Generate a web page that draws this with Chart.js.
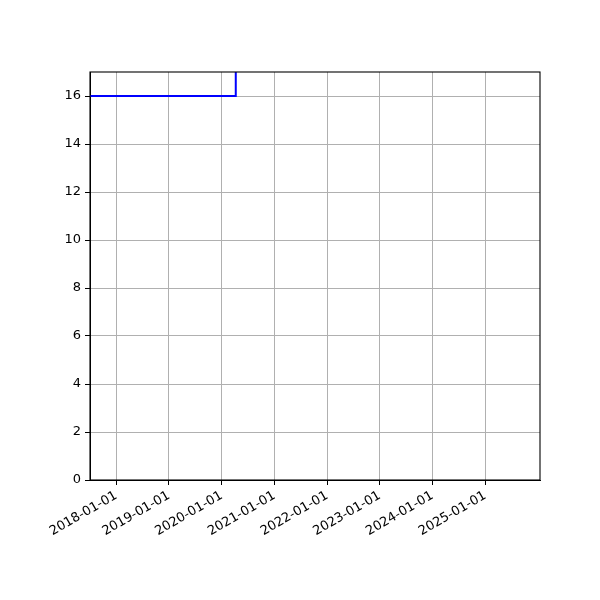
<!DOCTYPE html>
<html>
<head>
<meta charset="utf-8">
<script src="https://cdn.jsdelivr.net/npm/chart.js@4"></script>
<style>
  body { margin: 0; background: #fff; }
</style>
</head>
<body>
<canvas id="chart" width="600" height="600"></canvas>
<script>
// step series (values above 17 run off the top of the axes)
const stepDates = ['2017-01-01', '2020-04-08', '2023-06-01', '2025-08-27'];
const stepValues = [16, 30, 30, 30];
const yearTicks = ['2018-01-01', '2019-01-01', '2020-01-01', '2021-01-01',
                   '2022-01-01', '2023-01-01', '2024-01-01', '2025-01-01'];
const yTicks = [0, 2, 4, 6, 8, 10, 12, 14, 16];
const xRange = ['2017-07-03', '2026-01-15'];
const yRange = [0, 17];

function ms(s) {
    const p = s.split('-');
    return Date.UTC(+p[0], +p[1] - 1, +p[2]);
}
function fmt(v) {
    const d = new Date(v);
    const mm = String(d.getUTCMonth() + 1).padStart(2, '0');
    const dd = String(d.getUTCDate()).padStart(2, '0');
    return d.getUTCFullYear() + '-' + mm + '-' + dd;
}

const frame = {
    id: 'frame',
    afterDraw(chart) {
        const a = chart.chartArea;
        const ctx = chart.ctx;
        ctx.save();
        ctx.strokeStyle = '#000';
        ctx.lineWidth = 1.1;
        ctx.strokeRect(a.left, a.top, a.right - a.left, a.bottom - a.top);
        ctx.restore();
    }
};

Chart.defaults.font.family = 'DejaVu Sans';
Chart.defaults.font.size = 13;
Chart.defaults.color = '#000';

new Chart(document.getElementById('chart'), {
    type: 'line',
    data: {
        datasets: [{
            data: stepDates.map((d, i) => ({ x: ms(d), y: stepValues[i] })),
            borderColor: '#0000ff',
            borderWidth: 2,
            stepped: 'before',
            pointRadius: 0,
            fill: false
        }]
    },
    options: {
        responsive: false,
        animation: false,
        layout: { padding: { top: 72, right: 60, left: 0, bottom: 0 } },
        plugins: { legend: { display: false }, tooltip: { enabled: false } },
        scales: {
            x: {
                type: 'linear',
                min: ms(xRange[0]),
                max: ms(xRange[1]),
                afterBuildTicks: s => { s.ticks = yearTicks.map(t => ({ value: ms(t) })); },
                afterFit: s => { s.height = 120; },
                ticks: {
                    callback: v => fmt(v),
                    minRotation: 30,
                    maxRotation: 30,
                    autoSkip: false,
                    padding: 3
                },
                grid: { color: '#b0b0b0', lineWidth: 1, tickColor: '#000', tickLength: 5 },
                border: { color: '#000', width: 1 }
            },
            y: {
                min: yRange[0],
                max: yRange[1],
                afterBuildTicks: s => { s.ticks = yTicks.map(v => ({ value: v })); },
                afterFit: s => { s.width = 90; },
                ticks: { padding: 4 },
                grid: { color: '#b0b0b0', lineWidth: 1, tickColor: '#000', tickLength: 5 },
                border: { color: '#000', width: 1 }
            }
        }
    },
    plugins: [frame]
});
</script>
</body>
</html>
